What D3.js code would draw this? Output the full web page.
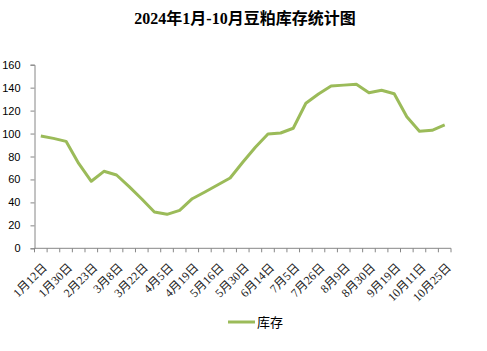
<!DOCTYPE html>
<html>
<head>
<meta charset="utf-8">
<script src="https://cdn.jsdelivr.net/npm/d3@7"></script>
<style>
  body { margin: 0; background: #fff; }
  svg { display: block; }
</style>
</head>
<body>
<svg id="chart"></svg>
<script>
// data (stock, 10k tons)
const tickLabels = ['1月12日', '1月30日', '2月23日', '3月8日', '3月22日', '4月5日', '4月19日', '5月16日', '5月30日',
                    '6月14日', '7月5日', '7月26日', '8月9日', '8月30日', '9月19日', '10月11日', '10月25日'];
const stock = [97.9, 95.8, 93.2, 74, 58.4, 67.1, 63.9, 53.7, 43, 31.6, 29.6, 33.1, 43.2, 49.1, 55.2, 61.3,
               75, 88, 99.6, 100.5, 104.6, 126.4, 134.5, 141.4, 142.2, 142.9, 135.6, 137.7, 134.7, 114.7,
               102, 102.8, 107.5];
const yTicks = [0, 20, 40, 60, 80, 100, 120, 140, 160];
const seriesName = '库存';
const title = '2024年1月-10月豆粕库存统计图';

const width = 487, height = 351;
const plotLeft = 34.5, plotRight = 451, plotTop = 64.7, plotBottom = 248.3;
const axisColor = '#868686';
const lineColor = '#9bbb59';

const svg = d3.select('#chart').attr('width', width).attr('height', height);

const idx = d3.range(stock.length);
const x = d3.scaleBand().domain(idx).range([plotLeft, plotRight]);
const y = d3.scaleLinear().domain([0, 160]).range([plotBottom, plotTop]);

// title
svg.append('text')
   .attr('x', 245).attr('y', 24)
   .attr('text-anchor', 'middle')
   .style('font-family', '"Liberation Serif", "Noto Sans CJK SC", serif')
   .style('font-weight', 'bold')
   .style('font-size', '16px')
   .text(title);

// y axis
const yAxis = svg.append('g')
   .attr('transform', `translate(${plotLeft},0)`)
   .call(d3.axisLeft(y).tickValues(yTicks).tickSize(4).tickPadding(10));
yAxis.select('.domain').attr('stroke', axisColor);
yAxis.selectAll('.tick line').attr('stroke', axisColor);
yAxis.selectAll('.tick text')
     .style('font-family', '"Liberation Sans", Arial, sans-serif')
     .style('font-size', '11px')
     .attr('fill', '#000');

// x axis: ticks at category boundaries, labels on every other category
const bounds = d3.range(stock.length + 1).map(i => plotLeft + i * x.step());
const xg = svg.append('g');
xg.append('line')
  .attr('x1', plotLeft).attr('x2', plotRight)
  .attr('y1', plotBottom).attr('y2', plotBottom)
  .attr('stroke', axisColor);
xg.selectAll('.xtick')
  .data(bounds).enter()
  .append('line')
  .attr('class', 'xtick')
  .attr('x1', d => d).attr('x2', d => d)
  .attr('y1', plotBottom).attr('y2', plotBottom + 4)
  .attr('stroke', axisColor);
xg.selectAll('.xlabel')
  .data(tickLabels).enter()
  .append('text')
  .attr('class', 'xlabel')
  .attr('text-anchor', 'end')
  .attr('transform', (d, i) => {
      const cx = x(i * 2) + x.bandwidth() / 2 + 7;
      return `translate(${cx},${plotBottom + 20}) rotate(-45)`;
  })
  .style('font-family', '"Liberation Serif", "Noto Sans CJK SC", serif')
  .style('font-size', '12px')
  .attr('fill', '#222')
  .text(d => d);

// line
const line = d3.line()
   .x((d, i) => x(i) + x.bandwidth() / 2)
   .y(d => y(d));
svg.append('path')
   .datum(stock)
   .attr('d', line)
   .attr('fill', 'none')
   .attr('stroke', lineColor)
   .attr('stroke-width', 3)
   .attr('stroke-linejoin', 'round');

// legend
svg.append('line')
   .attr('x1', 228).attr('x2', 255)
   .attr('y1', 322).attr('y2', 322)
   .attr('stroke', lineColor).attr('stroke-width', 3);
svg.append('text')
   .attr('x', 257).attr('y', 322)
   .attr('dy', '0.35em')
   .style('font-family', '"Noto Sans CJK SC", sans-serif')
   .style('font-size', '13px')
   .text(seriesName);
</script>
</body>
</html>
